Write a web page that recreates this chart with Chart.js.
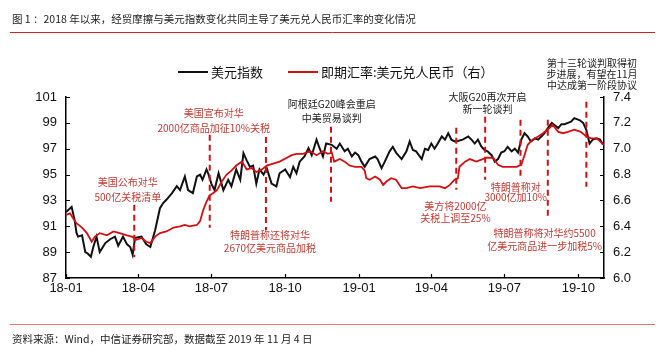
<!DOCTYPE html>
<html><head><meta charset="utf-8">
<script src="https://cdn.jsdelivr.net/npm/chart.js@4/dist/chart.umd.min.js"></script>
<style>html,body{margin:0;padding:0;background:#fff}#wrap{width:665px;height:353px;position:relative}</style>
</head><body><div id="wrap"><canvas id="c" width="665" height="353"></canvas></div>
<script>
// x values are days since 2018-01-01
const xTickDays = [0, 90, 181, 273, 365, 455, 546, 638];
const xTickLabels = ['18-01','18-04','18-07','18-10','19-01','19-04','19-07','19-10'];
const yLeftTicks = [87, 89, 91, 93, 95, 97, 99, 101];
const yRightTicks = [6.0, 6.2, 6.4, 6.6, 6.8, 7.0, 7.2, 7.4];

const dxyLabel = '美元指数';
const dxyDays = [
  0,7,11,13,15,20,24,27,31,34,
  38,42,49,55,61,65,71,76,80,83,
  86,94,100,105,111,117,121,125,132,138,
  142,148,152,158,163,167,170,175,177,181,
  185,190,196,202,206,212,217,221,225,229,
  233,237,241,246,250,256,262,266,273,279,
  283,287,291,297,302,306,312,316,320,324,
  331,337,341,347,351,356,360,364,368,372,
  378,385,388,393,397,403,407,411,418,424,
  428,432,436,443,447,451,455,459,463,468,
  472,476,480,484,488,494,501,505,509,513,
  517,521,525,530,534,538,542,546,550,555,
  559,563,567,571,575,579,584,588,592,596,
  600,605,609,613,617,621,625,629,633,640,
  644,648,652,656,661,665,669];
const dxyValues = [
  92.1,92.5,91.4,90.5,90.2,90.3,89.0,88.9,88.65,89.4,
  90.2,89.0,89.7,90.0,90.2,89.5,90.2,89.6,89.4,88.8,
  90.1,90.2,89.6,89.4,90.7,92.4,92.8,93.05,93.56,94.1,
  93.8,94.85,93.8,93.56,94.85,95.0,94.6,95.4,95.1,94.3,
  93.8,95.1,93.8,94.6,94.1,95.4,94.6,96.66,96.1,95.6,
  95.7,94.3,95.4,95.0,95.5,94.3,94.08,95.1,95.4,94.8,
  95.6,95.1,96.0,96.4,97.05,96.5,97.7,97.0,96.4,97.4,
  97.3,97.0,97.4,96.8,97.0,96.4,96.7,96.5,96.0,95.6,
  96.2,96.4,96.2,95.5,96.0,96.8,97.15,96.7,96.2,96.8,
  97.56,96.9,96.8,96.2,97.0,96.9,97.4,97.0,97.4,97.95,
  97.7,98.2,97.7,97.56,97.6,97.7,97.95,97.7,97.4,97.7,
  97.2,96.9,96.8,96.5,96.0,96.2,96.7,96.8,97.15,96.8,
  97.0,96.7,97.7,98.2,97.95,97.56,97.8,97.7,97.95,98.2,
  98.6,99.0,98.8,98.6,98.9,98.9,99.0,99.1,99.37,99.2,
  99.0,98.47,97.4,97.7,97.8,97.7,97.3];

const cnyLabel = '即期汇率:美元兑人民币（右）';
const cnyDays = [
  0,5,9,13,20,26,32,36,42,51,
  59,67,76,82,88,94,100,105,111,117,
  125,134,142,148,154,163,167,171,175,179,
  183,188,194,200,206,212,219,225,231,237,
  244,250,258,266,275,281,287,295,304,312,
  320,326,331,334,341,347,353,360,368,372,
  374,378,385,391,395,399,405,411,418,424,
  432,441,453,465,472,478,484,488,490,497,
  503,511,519,524,532,538,544,553,561,567,
  571,575,581,588,594,602,606,613,619,625,
  633,641,648,654,661,668,670];
const cnyValues = [
  6.488,6.50,6.46,6.424,6.39,6.347,6.28,6.32,6.347,6.33,
  6.36,6.347,6.33,6.32,6.295,6.31,6.28,6.27,6.32,6.347,
  6.36,6.39,6.40,6.41,6.40,6.41,6.44,6.527,6.59,6.64,
  6.656,6.68,6.746,6.80,6.83,6.87,6.90,6.84,6.85,6.82,
  6.84,6.87,6.885,6.90,6.93,6.95,6.96,6.96,6.98,6.95,
  6.98,6.96,6.97,6.90,6.92,6.90,6.87,6.86,6.86,6.83,
  6.772,6.76,6.785,6.76,6.72,6.746,6.772,6.76,6.695,6.695,
  6.708,6.695,6.708,6.708,6.695,6.72,6.76,6.77,6.86,6.90,
  6.92,6.90,6.92,6.93,6.93,6.875,6.86,6.86,6.86,6.875,
  6.95,7.03,7.07,7.095,7.12,7.16,7.185,7.13,7.12,7.13,
  7.147,7.13,7.095,7.08,7.08,7.04,7.03];

const titleText = '图 1 ：2018 年以来，经贸摩擦与美元指数变化共同主导了美元兑人民币汇率的变化情况';
const footerText = '资料来源：Wind，中信证券研究部，数据截至 2019 年 11 月 4 日';

// event annotations: day of dashed line, its span on the left axis, text lines with anchor (day, left-axis value)
const events = [
  {day:85,  from:92.66, to:88.63, red:true,  tx:77,  ty:[94.44,93.28], lines:['美国公布对华','500亿关税清单']},
  {day:179, from:98.08, to:90.88, red:true,  tx:184, ty:[99.78,98.62], lines:['美国宣布对华','2000亿商品加征10%关税']},
  {day:249, from:97.90, to:90.70, red:true,  tx:254, ty:[90.33,89.33], lines:['特朗普称还将对华','2670亿美元商品加税']},
  {day:330, from:98.70, to:92.90, red:false, tx:331, ty:[100.48,99.39], lines:['阿根廷G20峰会重启','中美贸易谈判']},
  {day:486, from:98.62, to:93.82, red:true,  tx:485, ty:[92.58,91.65], lines:['美方将2000亿','关税上调至25%']},
  {day:522, from:99.47, to:94.60, red:false, tx:525, ty:[101.02,100.09], lines:['大阪G20再次开启','新一轮谈判']},
  {day:566, from:99.24, to:94.75, red:true,  tx:560, ty:[94.05,93.28], lines:['特朗普称对','3000亿加10%']},
  {day:600, from:99.24, to:91.50, red:true,  tx:596, ty:[90.49,89.49], lines:['特朗普称将对华约5500','亿美元商品进一步加税5%']},
  {day:648, from:100.64, to:94.05, red:false, tx:655, ty:[103.58,102.73,101.88], lines:['第十三轮谈判取得初','步进展，有望在11月','中达成第一阶段协议']}
];

const CJK = '"Noto Sans CJK SC", "Noto Sans", sans-serif';
const NUM = '"Liberation Sans", Arial, sans-serif';
const BLACK = '#111111';
const RED = '#d40f14';
const RED_TXT = '#c23a32';

const decor = {
  id: 'decor',
  beforeDraw(chart) {
    const ctx = chart.ctx;
    ctx.save();
    ctx.fillStyle = '#fff';
    ctx.fillRect(0, 0, chart.width, chart.height);
    ctx.restore();
  },
  afterDatasetsDraw(chart) {
    const ctx = chart.ctx;
    const xs = chart.scales.x, ys = chart.scales.y;
    ctx.save();
    events.forEach(ev => {
      const px = xs.getPixelForValue(ev.day);
      ctx.strokeStyle = RED;
      ctx.lineWidth = 2;
      ctx.setLineDash([6, 4]);
      ctx.beginPath();
      ctx.moveTo(px, ys.getPixelForValue(ev.from));
      ctx.lineTo(px, ys.getPixelForValue(ev.to));
      ctx.stroke();
      ctx.setLineDash([]);
      ctx.fillStyle = ev.red ? RED_TXT : '#222';
      ctx.font = '10px ' + CJK;
      ctx.textAlign = 'center';
      ctx.textBaseline = 'middle';
      ev.lines.forEach((t, i) => {
        ctx.fillText(t, xs.getPixelForValue(ev.tx), ys.getPixelForValue(ev.ty[i]));
      });
    });
    ctx.restore();
  },
  afterDraw(chart) {
    const ctx = chart.ctx;
    const a = chart.chartArea;
    const xs = chart.scales.x, ys = chart.scales.y, y2 = chart.scales.y2;
    ctx.save();
    // inward tick marks
    ctx.strokeStyle = '#000';
    ctx.lineWidth = 1.2;
    ctx.beginPath();
    xs.ticks.forEach(t => {
      const p = Math.round(xs.getPixelForValue(t.value)) + 0.5;
      ctx.moveTo(p, a.bottom); ctx.lineTo(p, a.bottom - 4);
    });
    ys.ticks.forEach(t => {
      const p = Math.round(ys.getPixelForValue(t.value)) + 0.5;
      ctx.moveTo(a.left, p); ctx.lineTo(a.left + 4, p);
    });
    y2.ticks.forEach(t => {
      const p = Math.round(y2.getPixelForValue(t.value)) + 0.5;
      ctx.moveTo(a.right, p); ctx.lineTo(a.right - 4, p);
    });
    ctx.stroke();

    // title
    ctx.fillStyle = '#222';
    ctx.font = '10.5px ' + CJK;
    ctx.textAlign = 'left';
    ctx.textBaseline = 'middle';
    ctx.fillText(titleText, 12, 19);
    ctx.strokeStyle = '#c8262b';
    ctx.lineWidth = 1;
    ctx.beginPath(); ctx.moveTo(10, 32.5); ctx.lineTo(655, 32.5); ctx.stroke();

    // footer
    ctx.strokeStyle = '#d9797c';
    ctx.beginPath(); ctx.moveTo(10, 324.5); ctx.lineTo(655, 324.5); ctx.stroke();
    ctx.fillStyle = '#222';
    ctx.fillText(footerText, 12, 339);

    // legend
    ctx.font = '13px ' + CJK;
    let lx = 178;
    const ly = 72;
    chart.data.datasets.forEach(ds => {
      ctx.strokeStyle = ds.borderColor;
      ctx.lineWidth = 2;
      ctx.beginPath(); ctx.moveTo(lx, ly); ctx.lineTo(lx + 30, ly); ctx.stroke();
      ctx.fillStyle = '#111';
      ctx.fillText(ds.label, lx + 33, ly);
      lx += 33 + ctx.measureText(ds.label).width + 25;
    });
    ctx.restore();
  }
};

const toPoints = (days, vals) => days.map((d, i) => ({x: d, y: vals[i]}));

new Chart(document.getElementById('c'), {
  type: 'line',
  data: {
    datasets: [
      {label: dxyLabel, data: toPoints(dxyDays, dxyValues), borderColor: BLACK, borderWidth: 2,
       pointRadius: 0, tension: 0, yAxisID: 'y', order: 1},
      {label: cnyLabel, data: toPoints(cnyDays, cnyValues), borderColor: RED, borderWidth: 1.8,
       pointRadius: 0, tension: 0, yAxisID: 'y2', order: 0}
    ]
  },
  options: {
    responsive: false,
    devicePixelRatio: 1,
    animation: false,
    layout: {padding: {top: 97, left: 0, right: 0, bottom: 0}},
    plugins: {legend: {display: false}, title: {display: false}, tooltip: {enabled: false}},
    scales: {
      x: {
        type: 'linear', min: 0, max: 670,
        afterBuildTicks: s => { s.ticks = xTickDays.map(v => ({value: v})); },
        afterFit: s => { s.height = 75; },
        grid: {display: false, drawTicks: false},
        border: {display: true, color: '#000', width: 1.5},
        ticks: {autoSkip: false, maxRotation: 0, padding: 3, color: '#111',
                font: {family: NUM, size: 13},
                callback: (v, i) => xTickLabels[i]}
      },
      y: {
        position: 'left', min: 87, max: 101,
        afterBuildTicks: s => { s.ticks = yLeftTicks.map(v => ({value: v})); },
        afterFit: s => { s.width = 66; },
        grid: {display: false, drawTicks: false},
        border: {display: true, color: '#000', width: 1.5},
        ticks: {padding: 9, color: '#111', font: {family: NUM, size: 13},
                callback: v => String(v)}
      },
      y2: {
        position: 'right', min: 6.0, max: 7.4,
        afterBuildTicks: s => { s.ticks = yRightTicks.map(v => ({value: v})); },
        afterFit: s => { s.width = 61; },
        grid: {display: false, drawTicks: false},
        border: {display: true, color: '#000', width: 1.5},
        ticks: {padding: 9, color: '#111', font: {family: NUM, size: 13},
                callback: v => Number(v).toFixed(1)}
      }
    }
  },
  plugins: [decor]
});
</script>
</body></html>
